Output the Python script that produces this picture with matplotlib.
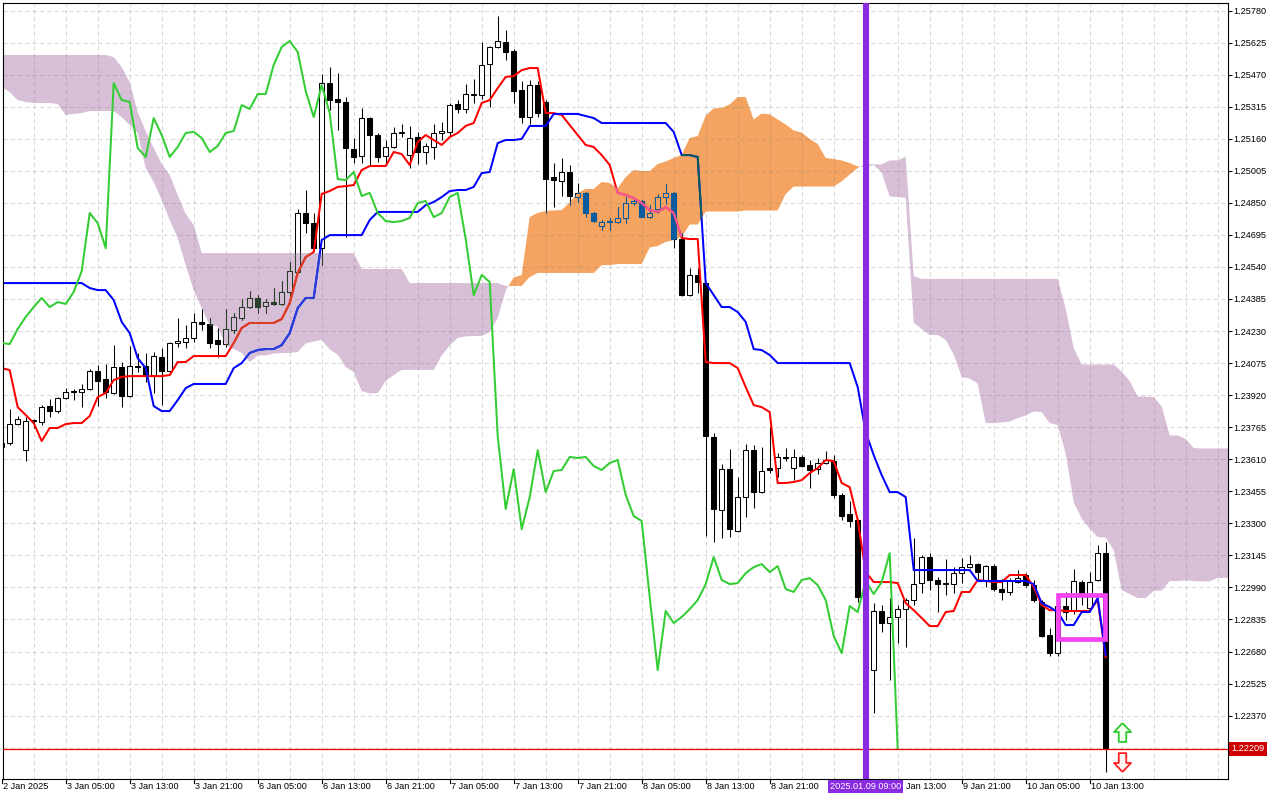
import numpy as np
import matplotlib
matplotlib.use("Agg")
import matplotlib.pyplot as plt
from matplotlib.path import Path
from matplotlib.patches import Rectangle
from matplotlib.transforms import blended_transform_factory

plt.rcParams["font.family"] = ["Liberation Sans", "DejaVu Sans"]

# ---------------------------------------------------------------------------
# H1 bars, 2 Jan 21:00 .. 10 Jan 15:00 (one bar per list entry)
# ---------------------------------------------------------------------------
opens = [
    1.23669, 1.23688, 1.23780, 1.23654, 1.23795, 1.23790, 1.23867, 1.23843, 1.23906, 1.23935,
    1.23935, 1.23949, 1.24037, 1.23998, 1.23930, 1.24056, 1.23916, 1.24061, 1.24061, 1.24017,
    1.24104, 1.24037, 1.24172, 1.24177, 1.24196, 1.24274, 1.24264, 1.24186, 1.24167, 1.24235,
    1.24293, 1.24346, 1.24390, 1.24351, 1.24370, 1.24361, 1.24419, 1.24515, 1.24801, 1.24752,
    1.24631, 1.25429, 1.25352, 1.25338, 1.25110, 1.25076, 1.25260, 1.25178, 1.25076, 1.25120,
    1.25188, 1.25081, 1.25168, 1.25096, 1.25120, 1.25188, 1.25193, 1.25328, 1.25304, 1.25372,
    1.25372, 1.25521, 1.25604, 1.25628, 1.25584, 1.25396, 1.25265, 1.25420, 1.25338, 1.24975,
    1.24956, 1.24999, 1.24878, 1.24898, 1.24801, 1.24738, 1.24757, 1.24757, 1.24777, 1.24849,
    1.24859, 1.24781, 1.24820, 1.24878, 1.24898, 1.24675, 1.24404, 1.24501, 1.24462, 1.23717,
    1.23364, 1.23562, 1.23263, 1.23427, 1.23654, 1.23451, 1.23567, 1.23567, 1.23621, 1.23567,
    1.23621, 1.23582, 1.23562, 1.23592, 1.23601, 1.23437, 1.23345, 1.23316, 1.22943, 1.22590,
    1.22876, 1.22818, 1.22847, 1.22885, 1.22929, 1.23011, 1.23137, 1.23026, 1.23006, 1.23006,
    1.23059, 1.23088, 1.23103, 1.23026, 1.23093, 1.22982, 1.22968, 1.23016, 1.23050, 1.23001,
    1.22919, 1.22760, 1.22672, 1.22900, 1.22880, 1.23016, 1.22890, 1.23026, 1.23156,
]
highs = [
    1.23712, 1.23853, 1.23819, 1.23814, 1.23804, 1.23872, 1.23901, 1.23911, 1.23954, 1.23949,
    1.23974, 1.24046, 1.24066, 1.24070, 1.24162, 1.24080, 1.24157, 1.24124, 1.24124, 1.24128,
    1.24148, 1.24177, 1.24293, 1.24259, 1.24317, 1.24336, 1.24293, 1.24245, 1.24336, 1.24317,
    1.24385, 1.24423, 1.24404, 1.24385, 1.24438, 1.24472, 1.24564, 1.24820, 1.24912, 1.24801,
    1.25473, 1.25507, 1.25478, 1.25362, 1.25164, 1.25309, 1.25265, 1.25188, 1.25154, 1.25217,
    1.25231, 1.25222, 1.25193, 1.25139, 1.25231, 1.25241, 1.25333, 1.25347, 1.25425, 1.25449,
    1.25628, 1.25609, 1.25754, 1.25686, 1.25594, 1.25439, 1.25444, 1.25439, 1.25347, 1.25043,
    1.25067, 1.25033, 1.24946, 1.24902, 1.24806, 1.24767, 1.24777, 1.24830, 1.24878, 1.24878,
    1.24864, 1.24839, 1.24893, 1.24941, 1.24902, 1.24704, 1.24535, 1.24535, 1.24467, 1.23737,
    1.23587, 1.23659, 1.23524, 1.23683, 1.23679, 1.23669, 1.23766, 1.23640, 1.23664, 1.23659,
    1.23630, 1.23606, 1.23616, 1.23650, 1.23630, 1.23446, 1.23408, 1.23321, 1.22977, 1.22914,
    1.22905, 1.22939, 1.22905, 1.22939, 1.23229, 1.23146, 1.23156, 1.23040, 1.23127, 1.23088,
    1.23132, 1.23146, 1.23108, 1.23098, 1.23103, 1.23030, 1.23035, 1.23074, 1.23059, 1.23026,
    1.22929, 1.22793, 1.22929, 1.22968, 1.23079, 1.23026, 1.23064, 1.23195, 1.23209,
]
lows = [
    1.23654, 1.23679, 1.23775, 1.23601, 1.23761, 1.23775, 1.23814, 1.23833, 1.23901, 1.23896,
    1.23862, 1.23945, 1.23867, 1.23906, 1.23925, 1.23862, 1.23911, 1.24032, 1.23983, 1.23930,
    1.23872, 1.24032, 1.24153, 1.24148, 1.24177, 1.24235, 1.24148, 1.24104, 1.24153, 1.24220,
    1.24283, 1.24341, 1.24317, 1.24317, 1.24356, 1.24356, 1.24394, 1.24511, 1.24704, 1.24622,
    1.24549, 1.25299, 1.25202, 1.24685, 1.25043, 1.25043, 1.25033, 1.25047, 1.25033, 1.25115,
    1.25168, 1.25018, 1.25038, 1.25038, 1.25062, 1.25154, 1.25168, 1.25284, 1.25284, 1.25333,
    1.25352, 1.25313, 1.25599, 1.25541, 1.25333, 1.25236, 1.25231, 1.25265, 1.24801, 1.24830,
    1.24883, 1.24839, 1.24854, 1.24781, 1.24757, 1.24719, 1.24719, 1.24752, 1.24752, 1.24839,
    1.24781, 1.24777, 1.24801, 1.24844, 1.24631, 1.24399, 1.24399, 1.24414, 1.23238, 1.23209,
    1.23229, 1.23234, 1.23258, 1.23330, 1.23374, 1.23446, 1.23543, 1.23524, 1.23601, 1.23509,
    1.23572, 1.23471, 1.23538, 1.23587, 1.23422, 1.23316, 1.23282, 1.22919, 1.22542, 1.22382,
    1.22774, 1.22542, 1.22721, 1.22702, 1.22905, 1.22963, 1.22977, 1.22871, 1.22953, 1.22963,
    1.23011, 1.23084, 1.23026, 1.22992, 1.22972, 1.22929, 1.22953, 1.23011, 1.22992, 1.22919,
    1.22750, 1.22658, 1.22658, 1.22832, 1.22861, 1.22905, 1.22880, 1.23021, 1.22097,
]
closes = [
    1.23688, 1.23780, 1.23804, 1.23795, 1.23800, 1.23862, 1.23843, 1.23906, 1.23935, 1.23940,
    1.23949, 1.24037, 1.23988, 1.23935, 1.24056, 1.23916, 1.24061, 1.24056, 1.24017, 1.24109,
    1.24037, 1.24172, 1.24182, 1.24196, 1.24274, 1.24264, 1.24172, 1.24167, 1.24240, 1.24298,
    1.24346, 1.24390, 1.24346, 1.24370, 1.24361, 1.24419, 1.24520, 1.24801, 1.24752, 1.24631,
    1.25429, 1.25347, 1.25338, 1.25115, 1.25072, 1.25260, 1.25178, 1.25072, 1.25120, 1.25188,
    1.25193, 1.25164, 1.25096, 1.25125, 1.25188, 1.25197, 1.25323, 1.25304, 1.25376, 1.25376,
    1.25517, 1.25604, 1.25633, 1.25580, 1.25391, 1.25265, 1.25420, 1.25284, 1.24965, 1.24960,
    1.24999, 1.24883, 1.24898, 1.24801, 1.24762, 1.24757, 1.24762, 1.24777, 1.24849, 1.24859,
    1.24781, 1.24801, 1.24878, 1.24898, 1.24675, 1.24404, 1.24501, 1.24467, 1.23722, 1.23369,
    1.23562, 1.23272, 1.23427, 1.23654, 1.23451, 1.23553, 1.23558, 1.23621, 1.23616, 1.23621,
    1.23577, 1.23558, 1.23592, 1.23606, 1.23437, 1.23335, 1.23311, 1.22943, 1.22590, 1.22876,
    1.22818, 1.22847, 1.22885, 1.22929, 1.23006, 1.23137, 1.23026, 1.23006, 1.23011, 1.23059,
    1.23088, 1.23103, 1.23064, 1.23093, 1.22982, 1.22968, 1.23026, 1.23035, 1.23001, 1.22929,
    1.22755, 1.22672, 1.22900, 1.22871, 1.23021, 1.22958, 1.23016, 1.23156, 1.22209,
]

# Ichimoku lines (one value per bar)
tenkan = [
    1.24051, 1.24041, 1.23862, 1.23824, 1.23785, 1.23698, 1.23761, 1.23761, 1.23780, 1.23785,
    1.23785, 1.23819, 1.23911, 1.23930, 1.23993, 1.24008, 1.24012, 1.24012, 1.24012, 1.24012,
    1.24012, 1.24017, 1.24080, 1.24080, 1.24109, 1.24109, 1.24109, 1.24109, 1.24109, 1.24172,
    1.24245, 1.24269, 1.24269, 1.24269, 1.24269, 1.24288, 1.24365, 1.24511, 1.24588, 1.24612,
    1.24893, 1.24907, 1.24927, 1.24931, 1.24936, 1.25009, 1.25028, 1.25028, 1.25028, 1.25096,
    1.25086, 1.25033, 1.25144, 1.25178, 1.25154, 1.25130, 1.25168, 1.25188, 1.25222, 1.25236,
    1.25333, 1.25347, 1.25405, 1.25459, 1.25463, 1.25492, 1.25502, 1.25502, 1.25284, 1.25284,
    1.25275, 1.25226, 1.25178, 1.25130, 1.25120, 1.25081, 1.25033, 1.24898, 1.24888, 1.24873,
    1.24849, 1.24815, 1.24806, 1.24830, 1.24801, 1.24680, 1.24675, 1.24675, 1.24080, 1.24075,
    1.24075, 1.24075, 1.24051, 1.23959, 1.23872, 1.23862, 1.23838, 1.23495, 1.23495, 1.23500,
    1.23509, 1.23543, 1.23567, 1.23606, 1.23601, 1.23495, 1.23475, 1.23316, 1.23064, 1.23016,
    1.23016, 1.23016, 1.23011, 1.22914, 1.22880, 1.22842, 1.22803, 1.22803, 1.22871, 1.22876,
    1.22968, 1.22968, 1.23026, 1.23021, 1.23016, 1.23016, 1.23050, 1.23050, 1.23050, 1.22992,
    1.22905, 1.22880, 1.22880, 1.22876, 1.22876, 1.22876, 1.22876, 1.22929, 1.22653,
]
kijun = [
    1.24462, 1.24462, 1.24462, 1.24462, 1.24462, 1.24462, 1.24462, 1.24462, 1.24462, 1.24462,
    1.24462, 1.24438, 1.24428, 1.24428, 1.24380, 1.24274, 1.24220, 1.24099, 1.24051, 1.23867,
    1.23843, 1.23843, 1.23896, 1.23954, 1.23974, 1.23974, 1.23974, 1.23974, 1.23974, 1.24051,
    1.24075, 1.24124, 1.24138, 1.24143, 1.24143, 1.24162, 1.24220, 1.24341, 1.24390, 1.24390,
    1.24670, 1.24694, 1.24694, 1.24694, 1.24694, 1.24694, 1.24767, 1.24806, 1.24806, 1.24806,
    1.24806, 1.24806, 1.24806, 1.24839, 1.24854, 1.24878, 1.24907, 1.24912, 1.24912, 1.24927,
    1.24994, 1.24999, 1.25139, 1.25154, 1.25154, 1.25159, 1.25222, 1.25222, 1.25222, 1.25280,
    1.25280, 1.25280, 1.25280, 1.25270, 1.25260, 1.25236, 1.25236, 1.25236, 1.25236, 1.25236,
    1.25236, 1.25236, 1.25236, 1.25236, 1.25193, 1.25081, 1.25081, 1.25072, 1.24462, 1.24404,
    1.24346, 1.24346, 1.24322, 1.24274, 1.24143, 1.24138, 1.24114, 1.24075, 1.24075, 1.24075,
    1.24075, 1.24075, 1.24075, 1.24075, 1.24075, 1.24075, 1.24075, 1.23959, 1.23741, 1.23630,
    1.23533, 1.23451, 1.23451, 1.23427, 1.23074, 1.23074, 1.23074, 1.23074, 1.23074, 1.23074,
    1.23074, 1.23074, 1.23021, 1.23021, 1.23021, 1.23021, 1.23021, 1.23021, 1.23021, 1.23006,
    1.22914, 1.22895, 1.22871, 1.22808, 1.22808, 1.22871, 1.22871, 1.22939, 1.22663,
]
# Senkou spans, running 16 bars past the last candle
span_a = [
    1.25410, 1.25386, 1.25347, 1.25338, 1.25333, 1.25333, 1.25333, 1.25328, 1.25275, 1.25280,
    1.25284, 1.25294, 1.25294, 1.25294, 1.25294, 1.25265, 1.25226, 1.25188, 1.25018, 1.24951,
    1.24864, 1.24767, 1.24680, 1.24549, 1.24428, 1.24341, 1.24257, 1.24252, 1.24162, 1.24143,
    1.24124, 1.24080, 1.24112, 1.24112, 1.24121, 1.24124, 1.24124, 1.24129, 1.24170, 1.24179,
    1.24187, 1.24141, 1.24116, 1.24056, 1.24032, 1.23940, 1.23928, 1.23930, 1.23988, 1.24017,
    1.24042, 1.24042, 1.24042, 1.24042, 1.24042, 1.24112, 1.24160, 1.24197, 1.24204, 1.24206,
    1.24206, 1.24225, 1.24293, 1.24426, 1.24489, 1.24501, 1.24782, 1.24801, 1.24811, 1.24813,
    1.24815, 1.24852, 1.24898, 1.24917, 1.24917, 1.24951, 1.24946, 1.24920, 1.24975, 1.25009,
    1.25004, 1.25004, 1.25038, 1.25050, 1.25067, 1.25082, 1.25164, 1.25173, 1.25272, 1.25307,
    1.25309, 1.25326, 1.25362, 1.25362, 1.25253, 1.25282, 1.25278, 1.25253, 1.25229, 1.25200,
    1.25190, 1.25159, 1.25135, 1.25067, 1.25062, 1.25055, 1.25043, 1.25026, 1.25021, 1.25033,
    1.24997, 1.24881, 1.24878, 1.24874, 1.24271, 1.24240, 1.24211, 1.24211, 1.24187, 1.24117,
    1.24008, 1.24000, 1.23976, 1.23785, 1.23785, 1.23788, 1.23792, 1.23809, 1.23821, 1.23841,
    1.23838, 1.23785, 1.23775, 1.23638, 1.23403, 1.23323, 1.23275, 1.23234, 1.23231, 1.23171,
    1.22977, 1.22958, 1.22939, 1.22939, 1.22973, 1.22975, 1.23021, 1.23021, 1.23024, 1.23021,
    1.23019, 1.23019, 1.23036, 1.23036, 1.23036,
]
span_b = [
    1.25565, 1.25565, 1.25565, 1.25565, 1.25565, 1.25565, 1.25565, 1.25565, 1.25565, 1.25565,
    1.25565, 1.25565, 1.25565, 1.25565, 1.25555, 1.25507, 1.25434, 1.25289, 1.25197, 1.25115,
    1.25038, 1.24985, 1.24888, 1.24796, 1.24743, 1.24607, 1.24607, 1.24607, 1.24607, 1.24607,
    1.24607, 1.24607, 1.24607, 1.24607, 1.24607, 1.24607, 1.24607, 1.24607, 1.24607, 1.24607,
    1.24607, 1.24607, 1.24607, 1.24607, 1.24607, 1.24530, 1.24530, 1.24530, 1.24530, 1.24530,
    1.24530, 1.24462, 1.24462, 1.24462, 1.24462, 1.24462, 1.24462, 1.24462, 1.24462, 1.24462,
    1.24462, 1.24462, 1.24462, 1.24448, 1.24448, 1.24448, 1.24491, 1.24511, 1.24511, 1.24511,
    1.24511, 1.24511, 1.24511, 1.24511, 1.24511, 1.24549, 1.24549, 1.24554, 1.24554, 1.24554,
    1.24554, 1.24634, 1.24641, 1.24661, 1.24670, 1.24685, 1.24745, 1.24745, 1.24808, 1.24808,
    1.24808, 1.24808, 1.24808, 1.24813, 1.24813, 1.24813, 1.24813, 1.24813, 1.24893, 1.24929,
    1.24929, 1.24929, 1.24929, 1.24929, 1.24929, 1.24954, 1.24987, 1.25019, 1.25036, 1.25036,
    1.25036, 1.25055, 1.25055, 1.25074, 1.24496, 1.24482, 1.24482, 1.24482, 1.24482, 1.24482,
    1.24482, 1.24482, 1.24482, 1.24482, 1.24482, 1.24482, 1.24482, 1.24482, 1.24482, 1.24482,
    1.24482, 1.24482, 1.24482, 1.24337, 1.24148, 1.24068, 1.24068, 1.24068, 1.24068, 1.24068,
    1.24034, 1.23988, 1.23913, 1.23913, 1.23911, 1.23865, 1.23725, 1.23725, 1.23708, 1.23664,
    1.23662, 1.23662, 1.23662, 1.23662, 1.23662,
]
CHIKOU_SHIFT = 26

# every 8th bar gets a time label; the one under the highlighted box is hidden
time_labels = [
    "2 Jan 2025", "3 Jan 05:00", "3 Jan 13:00", "3 Jan 21:00", "6 Jan 05:00",
    "6 Jan 13:00", "6 Jan 21:00", "7 Jan 05:00", "7 Jan 13:00", "7 Jan 21:00",
    "8 Jan 05:00", "8 Jan 13:00", "8 Jan 21:00", None, "Jan 13:00",
    "9 Jan 21:00", "10 Jan 05:00", "10 Jan 13:00",
]
price_ticks = [
    1.25780, 1.25625, 1.25470, 1.25315, 1.25160, 1.25005, 1.24850, 1.24695,
    1.24540, 1.24385, 1.24230, 1.24075, 1.23920, 1.23765, 1.23610, 1.23455,
    1.23300, 1.23145, 1.22990, 1.22835, 1.22680, 1.22525, 1.22370,
]
extra_grid = [1.22215]
last_price = 1.22209
vline_bar = 108
vline_label = "2025.01.09 09:00"
box_bars = (132.0, 137.9)
box_prices = (1.22739, 1.22952)
arrow_bar = 140
arrow_up_price = 1.22289
arrow_down_price = 1.22148

LABEL_FS = 6.6

# ---------------------------------------------------------------------------
fig = plt.figure(figsize=(12.8, 8), dpi=100, facecolor="white")
ax = fig.add_axes([2.7 / 1280, 20.7 / 800, 1225 / 1280, 776.6 / 800])
ax.set_facecolor("white")

o = np.array(opens); h = np.array(highs); l = np.array(lows); c = np.array(closes)
idx = np.arange(len(c))
a = np.array(span_a); b = np.array(span_b)
cx = np.arange(len(a))

# cloud
thistle, sandy = "#d8bfd8", "#f4a460"
f_up = ax.fill_between(cx, a, b, where=a >= b, interpolate=True,
                       facecolor=sandy, linewidth=0, zorder=1)
f_dn = ax.fill_between(cx, a, b, where=a < b, interpolate=True,
                       facecolor=thistle, linewidth=0, zorder=1)
path_up = Path.make_compound_path(*f_up.get_paths())
path_dn = Path.make_compound_path(*f_dn.get_paths())

# grid (drawn above the cloud so it darkens inside it)
for p in price_ticks + extra_grid:
    ax.axhline(p, color="#808080", alpha=0.3, lw=0.75, ls=(0, (4, 3)), zorder=1.5)
for i in range(0, len(a), 4):
    ax.axvline(i, color="#808080", alpha=0.3, lw=0.75, ls=(0, (4, 3)), zorder=1.5)


def draw_candles(dark, bull_face, z, clip=None):
    arts = [ax.vlines(idx, l, h, colors=dark, lw=0.75, zorder=z)]
    bottoms = np.minimum(o, c)
    heights = np.abs(c - o)
    faces = [bull_face if cc >= oo else dark for oo, cc in zip(o, c)]
    bars = ax.bar(idx, heights, width=0.56, bottom=bottoms, color=faces,
                  edgecolor=dark, linewidth=0.75, zorder=z + 0.01)
    arts.extend(bars.patches)
    if clip is not None:
        for art in arts:
            art.set_clip_path(clip, ax.transData)


draw_candles("black", "white", 2)
draw_candles("#274027", thistle, 2.1, path_dn)
draw_candles("#0b5b9f", sandy, 2.1, path_up)

ax.plot(idx, tenkan, color="#ff0000", lw=1.45, zorder=2.5)
ax.plot(idx, kijun, color="#0000ff", lw=1.45, zorder=2.5)
for clip, col_t, col_k in [(path_dn, "#d84027", "#2740d8"),
                           (path_up, "#f45b9f", "#0b5b60")]:
    lt, = ax.plot(idx, tenkan, color=col_t, lw=1.45, zorder=2.6)
    lk, = ax.plot(idx, kijun, color=col_k, lw=1.45, zorder=2.6)
    lt.set_clip_path(clip, ax.transData)
    lk.set_clip_path(clip, ax.transData)

# chikou span: closes shifted back 26 bars
ax.plot(idx[:len(c) - CHIKOU_SHIFT], c[CHIKOU_SHIFT:], color="#32cd32", lw=1.45, zorder=3)

# current price line
ax.axhline(last_price, color="#ee0000", lw=0.9, zorder=3.5)

# vertical marker line
ax.axvline(vline_bar, color="#8a2be2", lw=4.4, zorder=4)

# magenta rectangle
ax.add_patch(Rectangle((box_bars[0], box_prices[0]), box_bars[1] - box_bars[0],
                       box_prices[1] - box_prices[0], fill=False,
                       edgecolor="#f444f4", lw=3.4, joinstyle="miter", zorder=4.5))

# arrows
up_path = Path([(0, 1), (0.91, 0.05), (0.4, 0.05), (0.4, -1), (-0.4, -1),
                (-0.4, 0.05), (-0.91, 0.05), (0, 1)])
dn_path = Path([(x, -y) for x, y in up_path.vertices])
ax.plot([arrow_bar], [arrow_up_price], marker=up_path, markersize=13.5,
        markerfacecolor="#f4fff0", markeredgecolor="#2ecc2e", mew=1.3, zorder=5)
ax.plot([arrow_bar], [arrow_down_price], marker=dn_path, markersize=13.5,
        markerfacecolor="#fff4f4", markeredgecolor="#ff2020", mew=1.3, zorder=5)

ax.set_xlim(0.125, 153.25)
ax.set_ylim(1.22062, 1.25818)

# frame
for sp in ax.spines.values():
    sp.set_color("black")
    sp.set_linewidth(0.8)

# price axis on the right
ax.yaxis.tick_right()
ax.set_yticks(price_ticks)
ax.set_yticklabels([f"{p:.5f}" for p in price_ticks])
ax.tick_params(axis="y", length=3.2, width=0.8, pad=0.6, labelsize=LABEL_FS,
               colors="black", direction="out")
ax.set_xticks([])

ytr = blended_transform_factory(ax.transAxes, ax.transData)
ax.text(1.0029, last_price, f"{last_price:.5f}", transform=ytr, ha="left",
        va="center", color="white", fontsize=LABEL_FS, clip_on=False, zorder=10,
        bbox=dict(boxstyle="square,pad=0.25", fc="#cc0000", ec="none"))

# time axis labels
xtr = ax.get_xaxis_transform()
for i, lab in zip(range(0, len(c), 8), time_labels):
    ax.plot([i, i], [-4 / 776.6, 0], transform=xtr, color="black", lw=0.8, clip_on=False)
    if lab is None:
        continue
    x = i + 0.15
    if lab == "Jan 13:00":          # "9 " sits under the highlighted time box
        x = i + 1.1
    ax.text(x, -3 / 776.6, lab, transform=xtr, ha="left", va="top",
            fontsize=LABEL_FS, color="black", clip_on=False, zorder=6)
ax.text(vline_bar, -3 / 776.6, vline_label, transform=xtr, ha="center", va="top",
        fontsize=LABEL_FS, color="white", clip_on=False, zorder=10,
        bbox=dict(boxstyle="square,pad=0.22", fc="#8a2be2", ec="none"))

fig.savefig("out.png", dpi=100, facecolor="white")
